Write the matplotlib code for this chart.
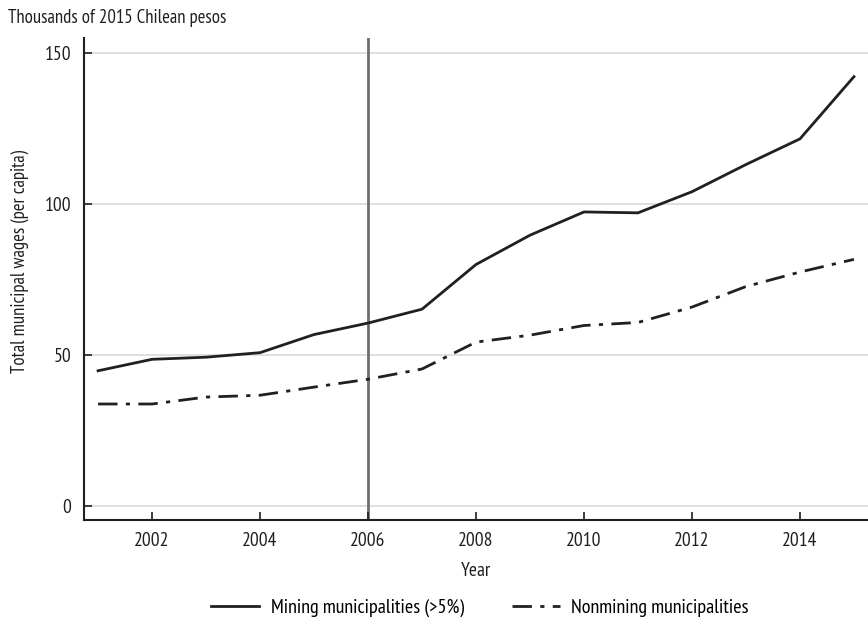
import matplotlib
matplotlib.use("Agg")
import matplotlib.pyplot as plt
from matplotlib.lines import Line2D

plt.rcParams["font.family"] = ["PT Sans Narrow", "DejaVu Sans"]

years = [2001, 2002, 2003, 2004, 2005, 2006, 2007, 2008, 2009, 2010, 2011, 2012, 2013, 2014, 2015]
mining = [44.8, 48.6, 49.3, 50.8, 56.8, 60.6, 65.2, 80.0, 89.7, 97.4, 97.1, 104.1, 113.1, 121.6, 142.2]
nonmining = [33.8, 33.8, 36.1, 36.7, 39.4, 42.0, 45.4, 54.3, 56.6, 59.8, 60.8, 65.9, 72.7, 77.5, 81.7]
x_ticks = [2002, 2004, 2006, 2008, 2010, 2012, 2014]
y_ticks = [0, 50, 100, 150]
policy_year = 2006

INK = "#231f20"
DASH = (7, 3, 1.5, 3)

fig = plt.figure(figsize=(8.68, 6.27), dpi=100, facecolor="white")
ax = fig.add_axes([0.0968, 0.1707, 0.9032, 0.7687])

for y in y_ticks:
    ax.axhline(y, color="#d9d9d9", linewidth=1.2, zorder=0)
ax.axvline(policy_year, color="#6e6e6e", linewidth=2, zorder=1)

ax.plot(years, mining, color=INK, linewidth=2, zorder=3)
ax.plot(years, nonmining, color=INK, linewidth=2, dashes=DASH, zorder=3)

ax.set_xlim(2000.74, 2015.26)
ax.set_ylim(-4.6, 155)
ax.set_xticks(x_ticks)
ax.set_yticks(y_ticks)
ax.tick_params(direction="in", length=6, width=1.2, colors=INK,
               labelsize=14, pad=9)
for s in ["top", "right"]:
    ax.spines[s].set_visible(False)
for s in ["left", "bottom"]:
    ax.spines[s].set_linewidth(1.5)
    ax.spines[s].set_color(INK)

ax.set_xlabel("Year", fontsize=14, color=INK, labelpad=8)
ax.set_ylabel("Total municipal wages (per capita)", fontsize=13.5, color=INK)
ax.yaxis.set_label_coords(-0.07, 0.537)
fig.text(0.009, 0.971, "Thousands of 2015 Chilean pesos", fontsize=13.5,
         color=INK, va="center", ha="left")

handles = [Line2D([], [], color=INK, linewidth=2),
           Line2D([], [], color=INK, linewidth=2, dashes=DASH)]
fig.legend(handles, ["Mining municipalities (>5%)", "Nonmining municipalities"],
           loc="center", bbox_to_anchor=(0.553, 0.03), ncol=2, frameon=False,
           fontsize=14.5, handlelength=2.4, columnspacing=2.4, handletextpad=0.55)

fig.savefig("out.png", dpi=100, facecolor="white")
